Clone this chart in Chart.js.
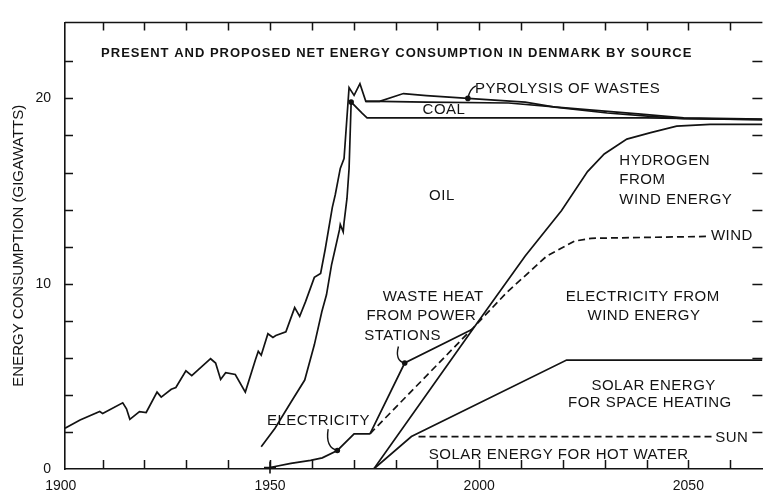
<!DOCTYPE html>
<html>
<head>
<meta charset="utf-8">
<script src="https://cdn.jsdelivr.net/npm/chart.js@4.4.1/dist/chart.umd.min.js"></script>
<style>
  html, body { margin: 0; padding: 0; background: #fff; }
  canvas { display: block; }
</style>
</head>
<body>
<canvas id="chart" width="770" height="495"></canvas>
<script>
// --- series, year vs. gigawatts ---
var totalYears = [1901, 1904.6, 1909.3, 1910.0, 1914.8, 1915.7, 1916.5, 1918.8, 1920.4, 1923.0, 1924.0, 1926.4, 1927.5,
  1929.9, 1931.3, 1935.8, 1937.0, 1938.2, 1939.4, 1941.7, 1944.1, 1946.5, 1947.2, 1947.9, 1949.5, 1950.7, 1951.4,
  1953.8, 1955.9, 1957.1, 1958.5, 1960.6, 1962.1, 1963.2, 1964.9, 1965.6, 1966.8, 1967.7, 1968.9, 1970.1, 1971.5,
  1972.9, 1976.2, 1981.9, 1987.4, 1997.3, 2011.0, 2018.1, 2030.6, 2042.5, 2048.9, 2067.7];
var totalGW = [2.2, 2.65, 3.1, 3.0, 3.57, 3.25, 2.68, 3.1, 3.05, 4.15, 3.88, 4.3, 4.4,
  5.3, 5.04, 5.95, 5.72, 4.83, 5.2, 5.1, 4.15, 5.88, 6.35, 6.14, 7.3, 7.1, 7.2,
  7.4, 8.71, 8.24, 9.03, 10.34, 10.55, 11.86, 14.12, 14.8, 16.22, 16.75, 20.58, 20.16, 20.79,
  19.84, 19.84, 20.26, 20.15, 20.0, 19.8, 19.53, 19.21, 19.0, 18.9, 18.85];

var oilYears = [1947.9, 1951.2, 1955.0, 1958.3, 1960.6, 1962.4, 1963.5, 1964.7, 1965.6, 1966.6, 1966.8, 1967.5,
  1967.7, 1968.4, 1968.9, 1969.4, 1972.0, 1973.2, 2040.0, 2067.7];
var oilGW = [1.2, 2.2, 3.6, 4.8, 6.7, 8.5, 9.4, 11.0, 11.9, 12.9, 13.2, 12.8,
  13.3, 14.6, 16.2, 19.8, 19.2, 18.95, 18.95, 18.85];

var coalYears = [1972.9, 1976.2, 1987.4, 2007.0, 2022.8, 2038.7, 2048.9, 2067.7];
var coalGW = [19.84, 19.84, 19.8, 19.75, 19.45, 19.15, 18.95, 18.88];

var hydrogenYears = [1974.8, 1998.5, 2011.0, 2019.7, 2025.9, 2029.9, 2035.3, 2041.0, 2047.2, 2055.2, 2067.7];
var hydrogenGW = [0, 7.55, 11.5, 13.95, 16.05, 17.0, 17.8, 18.15, 18.5, 18.6, 18.6];

var windYears = [1973.9, 1998.7, 2006.7, 2016.2, 2022.8, 2026.8, 2054.3];
var windGW = [1.9, 7.65, 9.55, 11.5, 12.3, 12.45, 12.55];

var wasteHeatYears = [1973.9, 1982.2, 1998.5];
var wasteHeatGW = [1.9, 5.72, 7.55];

var electricityYears = [1950.0, 1955.0, 1959.7, 1962.5, 1966.1, 1970.1, 1973.9];
var electricityGW = [0.08, 0.3, 0.47, 0.6, 1.0, 1.9, 1.9];

var spaceHeatYears = [1974.8, 1983.8, 2020.9, 2067.7];
var spaceHeatGW = [0, 1.75, 5.88, 5.88];

var sunYears = [1985.5, 2055.6];
var sunGW = [1.75, 1.75];

// small dots where the label leaders touch the curves
var dotYears = [1997.3, 1969.4, 1982.2, 1966.1];
var dotGW = [20.0, 19.8, 5.72, 1.0];

// axis ticks
var yearLabels = [1900, 1950, 2000, 2050];
var decadeTicks = [1910, 1920, 1930, 1940, 1950, 1960, 1970, 1980, 1990, 2000, 2010, 2020, 2030, 2040, 2050, 2060];
var gwLabels = [0, 10, 20];
var gwTicks = [2, 4, 6, 8, 10, 12, 14, 16, 18, 20, 22];

var ink = '#131313';
var FONT = '"Liberation Sans", Arial, sans-serif';

function pts(xs, ys) {
  return xs.map(function(x, i) { return { x: x, y: ys[i] }; });
}

function line(xs, ys, dashed) {
  return {
    data: pts(xs, ys),
    borderColor: ink,
    borderWidth: 1.7,
    borderDash: dashed ? [7, 4] : [],
    pointRadius: 0,
    fill: false,
    tension: 0
  };
}

// text placed in data units (year, GW)
var notes = [
  { t: 'PRESENT AND PROPOSED NET ENERGY CONSUMPTION IN DENMARK BY SOURCE', x: 1980.3, y: 22.41, align: 'center', bold: true },
  { t: 'PYROLYSIS OF WASTES', x: 1999.0, y: 20.5, align: 'left' },
  { t: 'COAL', x: 1991.6, y: 19.36, align: 'center' },
  { t: 'OIL', x: 1991.1, y: 14.75, align: 'center' },
  { t: 'HYDROGEN', x: 2033.5, y: 16.64, align: 'left' },
  { t: 'FROM', x: 2033.5, y: 15.59, align: 'left' },
  { t: 'WIND ENERGY', x: 2033.5, y: 14.54, align: 'left' },
  { t: 'WIND', x: 2055.4, y: 12.6, align: 'left' },
  { t: 'WASTE HEAT', x: 1989.0, y: 9.29, align: 'center' },
  { t: 'FROM POWER', x: 1986.2, y: 8.24, align: 'center' },
  { t: 'STATIONS', x: 1981.7, y: 7.19, align: 'center' },
  { t: 'ELECTRICITY FROM', x: 2039.1, y: 9.29, align: 'center' },
  { t: 'WIND ENERGY', x: 2039.4, y: 8.29, align: 'center' },
  { t: 'SOLAR ENERGY', x: 2041.7, y: 4.51, align: 'center' },
  { t: 'FOR SPACE HEATING', x: 2040.8, y: 3.57, align: 'center' },
  { t: 'SUN', x: 2056.4, y: 1.68, align: 'left' },
  { t: 'SOLAR ENERGY FOR HOT WATER', x: 2019.0, y: 0.79, align: 'center' },
  { t: 'ELECTRICITY', x: 1961.6, y: 2.62, align: 'center' }
];

// curved leaders: start, control, end (the end sits on a dot)
var leaders = [
  [[1999.2, 20.68], [1997.75, 20.53], [1997.3, 20.0]],
  [[1980.7, 6.61], [1979.8, 5.85], [1982.2, 5.72]],
  [[1963.9, 2.15], [1963.2, 1.15], [1966.1, 1.0]]
];

var decorations = {
  id: 'decorations',
  afterDraw: function(chart) {
    var ctx = chart.ctx;
    var a = chart.chartArea;
    var xs = chart.scales.x, ys = chart.scales.y;
    ctx.save();
    ctx.strokeStyle = ink;
    ctx.lineWidth = 1.5;

    // top frame and the inward tick marks on all four sides
    ctx.beginPath();
    ctx.moveTo(a.left, a.top);
    ctx.lineTo(a.right, a.top);
    decadeTicks.forEach(function(yr) {
      var px = Math.round(xs.getPixelForValue(yr)) + 0.5;
      ctx.moveTo(px, a.bottom);
      ctx.lineTo(px, a.bottom - 9);
      ctx.moveTo(px, a.top);
      ctx.lineTo(px, a.top + 8);
    });
    gwTicks.forEach(function(v) {
      var py = Math.round(ys.getPixelForValue(v)) + 0.5;
      ctx.moveTo(a.left, py);
      ctx.lineTo(a.left + 8, py);
      ctx.moveTo(a.right, py);
      ctx.lineTo(a.right - 10, py);
    });
    ctx.stroke();

    // leaders
    ctx.lineWidth = 1.4;
    leaders.forEach(function(l) {
      ctx.beginPath();
      ctx.moveTo(xs.getPixelForValue(l[0][0]), ys.getPixelForValue(l[0][1]));
      ctx.quadraticCurveTo(xs.getPixelForValue(l[1][0]), ys.getPixelForValue(l[1][1]),
        xs.getPixelForValue(l[2][0]), ys.getPixelForValue(l[2][1]));
      ctx.stroke();
    });

    // labels
    ctx.fillStyle = ink;
    ctx.textBaseline = 'middle';
    notes.forEach(function(n) {
      ctx.font = n.bold ? 'bold 13px ' + FONT : '15px ' + FONT;
      ctx.letterSpacing = n.bold ? '1px' : '0.5px';
      ctx.textAlign = n.align;
      ctx.fillText(n.t, xs.getPixelForValue(n.x), ys.getPixelForValue(n.y));
    });
    ctx.restore();
  }
};

Chart.defaults.font.family = FONT;
Chart.defaults.color = ink;

var electricity = line(electricityYears, electricityGW, false);
electricity.pointStyle = 'cross';
electricity.pointRadius = function(c) { return c.dataIndex === 0 ? 6 : 0; };
electricity.pointBorderWidth = 1.6;
electricity.pointBorderColor = ink;
electricity.clip = false;

var chart = new Chart(document.getElementById('chart').getContext('2d'), {
  type: 'line',
  data: {
    datasets: [
      line(totalYears, totalGW, false),
      line(oilYears, oilGW, false),
      line(coalYears, coalGW, false),
      line(hydrogenYears, hydrogenGW, false),
      line(windYears, windGW, true),
      line(wasteHeatYears, wasteHeatGW, false),
      electricity,
      line(spaceHeatYears, spaceHeatGW, false),
      line(sunYears, sunGW, true),
      {
        data: pts(dotYears, dotGW),
        showLine: false,
        pointRadius: 2.8,
        pointBackgroundColor: ink,
        pointBorderWidth: 0
      }
    ]
  },
  options: {
    responsive: false,
    animation: false,
    events: [],
    layout: { padding: { top: 10, right: 0, left: 0, bottom: 0 } },
    plugins: {
      legend: { display: false },
      tooltip: { enabled: false }
    },
    scales: {
      x: {
        type: 'linear',
        min: 1901,
        max: 2067.7,
        afterBuildTicks: function(s) { s.ticks = yearLabels.map(function(v) { return { value: v }; }); },
        afterFit: function(s) { s.height = 26; },
        grid: { display: false, drawTicks: false },
        border: { display: true, color: ink, width: 1.6 },
        ticks: {
          padding: 9,
          maxRotation: 0,
          autoSkip: false,
          font: { size: 14 },
          callback: function(v) { return String(v); }
        }
      },
      y: {
        min: 0,
        max: 24.1,
        afterBuildTicks: function(s) { s.ticks = gwLabels.map(function(v) { return { value: v }; }); },
        afterFit: function(s) { s.width = 65; },
        grid: { display: false, drawTicks: false },
        border: { display: true, color: ink, width: 1.6 },
        ticks: { padding: 14, font: { size: 14 } },
        title: {
          display: true,
          text: 'ENERGY CONSUMPTION (GIGAWATTS)',
          font: { size: 15 },
          padding: { top: 10, bottom: 0 }
        }
      }
    }
  },
  plugins: [decorations]
});
</script>
</body>
</html>
